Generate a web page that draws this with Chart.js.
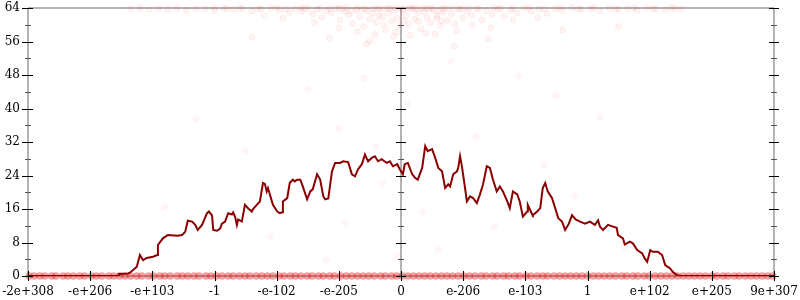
<!DOCTYPE html>
<html>
<head>
<meta charset="utf-8">
<script src="https://cdn.jsdelivr.net/npm/chart.js@4/dist/chart.umd.min.js"></script>
<style>
  html, body { margin: 0; padding: 0; background: #fff; }
  #wrap { width: 800px; height: 300px; }
</style>
</head>
<body>
<div id="wrap"><canvas id="c" width="800" height="300"></canvas></div>
<script>
// ---- data ----
const xTickLabels = ['-2e+308','-e+206','-e+103','-1','-e-102','-e-205','0','e-206','e-103','1','e+102','e+205','9e+307'];
const yTicks = [0, 8, 16, 24, 32, 40, 48, 56, 64];

const lineX = [-6,-4.55,-4.54,-4.39,-4.36,-4.25,-4.20,-4.15,-4.09,-3.99,-3.92,-3.91,-3.83,-3.75,-3.60,-3.52,-3.47,-3.43,-3.36,-3.31,-3.27,-3.20,-3.12,-3.09,-3.04,-3.02,-2.96,-2.91,-2.88,-2.83,-2.78,-2.72,-2.70,-2.67,-2.64,-2.62,-2.56,-2.51,-2.46,-2.40,-2.38,-2.32,-2.27,-2.22,-2.19,-2.16,-2.14,-2.11,-2.06,-1.99,-1.95,-1.91,-1.90,-1.83,-1.79,-1.74,-1.71,-1.67,-1.62,-1.58,-1.51,-1.46,-1.42,-1.35,-1.30,-1.25,-1.22,-1.17,-1.11,-1.06,-0.98,-0.93,-0.85,-0.79,-0.74,-0.69,-0.63,-0.58,-0.53,-0.47,-0.42,-0.37,-0.31,-0.23,-0.18,-0.13,-0.06,-0.02,0.03,0.06,0.11,0.18,0.23,0.27,0.34,0.39,0.43,0.50,0.55,0.60,0.66,0.71,0.76,0.79,0.84,0.90,0.92,0.95,0.98,1.03,1.06,1.11,1.16,1.22,1.27,1.32,1.38,1.43,1.48,1.54,1.59,1.64,1.71,1.75,1.80,1.87,1.91,1.96,2.03,2.04,2.11,2.12,2.19,2.24,2.28,2.32,2.36,2.43,2.48,2.53,2.59,2.64,2.70,2.75,2.81,2.88,2.96,3.04,3.12,3.17,3.20,3.25,3.33,3.41,3.47,3.49,3.57,3.60,3.68,3.73,3.80,3.88,3.92,3.96,4.01,4.05,4.13,4.20,4.25,4.33,4.37,4.44,4.49,6];
const lineY = [0,0,0.5,0.6,0.8,2.2,5,3.8,4.3,4.6,5,7.4,9,9.8,9.6,9.8,10.6,13.2,13,12.2,11,12.2,15,15.4,14.5,11,10.8,11.3,12.5,13,15,14.7,15.2,14.2,12.2,13.5,13,17,16.2,15.4,16,17,17.8,22.2,22,20.2,21,19.5,17,15.4,15,15.2,17.8,18.6,22.2,23,22.6,23,23,21.4,18.3,20.2,20.7,24.3,23,19,18.3,18.5,25,27,27,27.4,27.2,24.3,23.8,25.5,26.7,29,27.4,28.2,28.6,27.4,27.9,27,27.4,26.2,26.7,25.5,24.3,26.7,27,24.3,23.4,23,25.8,31,29.8,30.3,28.2,25.8,25,21,21.9,21.4,24.3,25,25.8,28.6,26.2,21,17.8,19,18.6,17.4,19.5,21.9,26.2,25.8,23,20.2,21.4,20.2,17.8,16.2,20.2,19.5,17.8,14.2,15.4,17,14.7,14.5,15.4,16.2,21,22.2,20.2,18.6,16.2,13.8,13,11,12.5,14.5,13.5,13,12.5,13,12.2,13.3,11.8,11,12.2,11.8,11.5,9.8,9,7.5,8.2,7.8,6.2,5.4,4.2,3.4,6.2,5.8,5.8,5,2.6,1.8,1,0.2,0,0];

const topX = [-4.35,-4.2,-4.05,-3.9,-3.75,-3.6,-3.45,-3.3,-3.15,-3.0,-2.85,-2.7,-2.55,-2.4,-2.25,-2.1,-1.95,-1.8,-1.7,-1.6,-1.5,-1.42,-1.35,-1.27,-1.2,-1.12,-1.05,-0.98,-0.9,-0.84,-0.78,-0.72,-0.66,-0.6,-0.55,-0.5,-0.45,-0.4,-0.35,-0.3,-0.25,-0.2,-0.15,-0.1,-0.06,-0.02,0.03,0.08,0.12,0.17,0.22,0.27,0.32,0.37,0.42,0.47,0.52,0.58,0.63,0.69,0.75,0.81,0.87,0.94,1.0,1.07,1.14,1.22,1.3,1.38,1.47,1.56,1.66,1.76,1.87,1.98,2.1,2.22,2.35,2.48,2.6,2.75,2.9,3.05,3.2,3.35,3.5,3.65,3.8,3.95,4.1,4.25,4.4,-1.0,-0.7,-0.45,-0.2,0.0,0.2,0.45,0.7,1.0,-1.6,1.6,-0.8,0.6,-0.12,0.55,1.4,-0.5,2.6,-2.4,3.5,
  -3.0,-2.8,-2.6,-2.3,-2.0,-1.85,-1.55,-1.3,-1.15,-0.95,-0.88,-0.62,-0.57,-0.38,-0.28,-0.18,-0.08,0.06,0.14,0.25,0.34,0.4,0.5,0.66,0.78,0.9,1.1,1.25,1.5,1.8,2.05,2.3,2.55,2.85,3.1,3.45,3.75,4.05,4.35,4.5,
  -1.4,-1.0,-0.7,-0.42,-0.28,-0.08,0.15,0.28,0.4,0.66,0.9,1.15,1.45,1.8,-1.9,-2.2,2.2,-0.55,0.85,-1.15,0.05,-0.35,0.58];
const topY = [63.8,64,63.6,63.9,63.7,64,63.5,63.9,63.8,63.4,64,63.7,63.9,63.3,63.8,64,63.6,62.9,63.8,63.2,64,62.6,63.7,61.8,63.4,62.9,64,61.2,63.1,62.4,60.3,63.6,62.0,59.5,63.2,61.4,62.8,60.6,63.7,61.9,58.8,62.7,60.9,63.5,61.5,59.9,63.4,62.2,60.1,63.8,61.3,62.9,58.9,63.1,61.7,60.4,63.6,62.1,59.7,63.0,61.0,62.6,60.2,63.7,61.6,63.1,62.2,63.9,61.1,63.4,62.5,63.8,62.0,63.5,62.8,64,63.2,63.8,62.7,63.9,63.4,64,63.6,63.9,63.3,64,63.7,63.9,63.5,64,63.8,63.6,64,63.9,64,63.9,64,63.9,64,63.9,64,63.9,64,64,63.3,63.3,57.2,57.8,56.5,56.2,58.7,57.1,59.6,
  64,63.9,64,63.9,64,63.8,63.9,64,63.8,63.9,64,63.9,63.7,64,63.8,63.9,64,63.9,64,63.8,64,63.9,64,63.8,64,63.9,64,63.8,64,63.9,64,63.8,64,63.9,64,63.8,64,63.9,64,63.8,
  60.5,59.2,58.3,57.6,60.1,58.2,57.5,60.8,58.0,60.9,58.5,60.0,59.3,61.2,61.5,62.2,61.6,55.4,54.8,56.9,61.0,62.1,61.5];

const midX = [-3.3,-2.5,-1.5,-1.0,-0.6,-0.3,0.1,0.35,0.8,1.2,1.5,1.9,2.3,2.8,3.2,-0.9,-2.1,-1.8,0.6,-0.05,2.5,3.6,-3.8,-1.2,1.0,-0.4];
const midY = [37.6,29.8,44.5,35.2,47.3,22.1,41.0,15.4,51.2,33.3,11.8,47.9,26.5,19.1,38.0,12.7,9.4,20.0,6.2,4.8,43.1,6.9,16.4,3.9,23.7,30.8];

const bottomX = [-5.98,-5.9,-5.81,-5.73,-5.62,-5.55,-5.44,-5.36,-5.27,-5.17,-5.09,-4.98,-4.9,-4.81,-4.7,-4.62,-4.53,-4.44,-4.35,-4.25,-4.17,-4.06,-3.98,-3.88,-3.8,-3.71,-3.6,-3.52,-3.43,-3.33,-3.25,-3.14,-3.06,-2.97,-2.88,-2.78,-2.7,-2.6,-2.51,-2.43,-2.33,-2.24,-2.15,-2.06,-1.96,-1.88,-1.78,-1.7,-1.61,-1.51,-1.43,-1.33,-1.25,-1.15,-1.07,-0.97,-0.88,-0.79,-0.7,-0.61,-0.52,-0.43,-0.33,-0.25,-0.15,-0.07,0.02,0.11,0.2,0.29,0.38,0.47,0.56,0.65,0.74,0.83,0.92,1.01,1.1,1.19,1.29,1.37,1.47,1.55,1.65,1.73,1.83,1.91,2.01,2.09,2.19,2.28,2.36,2.46,2.55,2.64,2.73,2.82,2.91,3.0,3.09,3.18,3.27,3.36,3.45,3.55,3.63,3.73,3.81,3.91,3.99,4.09,4.18,4.27,4.36,4.45,4.54,4.63,4.72,4.81,4.9,5.0,5.08,5.18,5.26,5.36,5.44,5.54,5.63,5.72,5.81,5.9,5.98];
const bottomLevel = 0;

// ---- chart ----
const zip = (xs, ys) => xs.map((x, i) => ({ x: x, y: ys[i] }));

const axisDeco = {
  id: 'axisDeco',
  beforeDatasetsDraw(chart) {
    const { ctx, chartArea: { left, right, top, bottom }, scales: { x } } = chart;
    const x0 = x.getPixelForValue(0);
    ctx.save();
    ctx.strokeStyle = '#b4b4b4';
    ctx.lineWidth = 2;
    ctx.beginPath();
    ctx.moveTo(left, top); ctx.lineTo(right, top);
    ctx.moveTo(left, bottom); ctx.lineTo(right, bottom);
    [left, x0, right].forEach(px => { ctx.moveTo(px, top); ctx.lineTo(px, bottom); });
    ctx.stroke();
    ctx.restore();
  },
  afterDraw(chart) {
    const { ctx, chartArea: { left, right, bottom }, scales: { x, y } } = chart;
    const x0 = x.getPixelForValue(0);
    const cols = [left, x0, right];
    ctx.save();
    ctx.lineWidth = 1;
    ctx.strokeStyle = '#000';
    ctx.beginPath();
    y.ticks.forEach(t => {
      const py = Math.round(y.getPixelForValue(t.value)) + 0.5;
      cols.forEach((cx, i) => {
        const a = i === 0 ? 6 : 5;
        ctx.moveTo(cx - a, py); ctx.lineTo(cx + 5, py);
      });
    });
    ctx.stroke();
    ctx.strokeStyle = '#555';
    ctx.beginPath();
    for (let i = 0; i < y.ticks.length - 1; i++) {
      const mid = (y.ticks[i].value + y.ticks[i + 1].value) / 2;
      const py = Math.round(y.getPixelForValue(mid)) + 0.5;
      cols.forEach(cx => { ctx.moveTo(cx - 3, py); ctx.lineTo(cx + 3, py); });
    }
    ctx.stroke();
    ctx.strokeStyle = '#000';
    ctx.beginPath();
    x.ticks.forEach(t => {
      const px = Math.round(x.getPixelForValue(t.value)) + 0.5;
      ctx.moveTo(px, bottom - 5); ctx.lineTo(px, bottom + 5);
    });
    ctx.stroke();
    ctx.restore();
  }
};

Chart.defaults.font.family = "'DejaVu Serif', serif";
Chart.defaults.font.size = 12;
Chart.defaults.color = '#000';

new Chart(document.getElementById('c'), {
  type: 'scatter',
  data: {
    datasets: [
      {
        label: 'line', data: zip(lineX, lineY), showLine: true,
        borderColor: '#8b0000', borderWidth: 2, pointRadius: 0, tension: 0, order: 0
      },
      {
        label: 'top', data: zip(topX, topY), pointRadius: 3, borderWidth: 1,
        backgroundColor: 'rgba(255,0,0,0.045)', borderColor: 'rgba(255,0,0,0.06)', order: 2, clip: false
      },
      {
        label: 'mid', data: zip(midX, midY), pointRadius: 3, borderWidth: 1,
        backgroundColor: 'rgba(255,0,0,0.03)', borderColor: 'rgba(255,0,0,0.04)', order: 2, clip: false
      },
      {
        label: 'bottom', data: bottomX.map(v => ({ x: v, y: bottomLevel })), pointRadius: 3.8, borderWidth: 0,
        backgroundColor: 'rgba(230,20,20,0.4)', borderColor: 'rgba(230,20,20,0)', order: 1, clip: false
      }
    ]
  },
  options: {
    responsive: false,
    animation: false,
    devicePixelRatio: 1,
    layout: { padding: { top: 8, right: 26, left: 0, bottom: 0 } },
    plugins: { legend: { display: false }, tooltip: { enabled: false } },
    scales: {
      x: {
        type: 'linear', min: -6, max: 6,
        grid: { display: false, drawTicks: false }, border: { display: false },
        ticks: {
          stepSize: 1, autoSkip: false, maxRotation: 0, padding: 9,
          callback: v => xTickLabels[Math.round(v) + 6]
        },
        afterFit: s => { s.height = 24; s.paddingLeft = 0; s.paddingRight = 0; }
      },
      y: {
        type: 'linear', min: 0, max: 64,
        grid: { display: false, drawTicks: false }, border: { display: false },
        afterBuildTicks: s => { s.ticks = yTicks.map(v => ({ value: v })); },
        ticks: { padding: 8 },
        afterFit: s => { s.width = 28; s.paddingTop = 0; s.paddingBottom = 0; }
      }
    }
  },
  plugins: [axisDeco]
});
</script>
</body>
</html>
